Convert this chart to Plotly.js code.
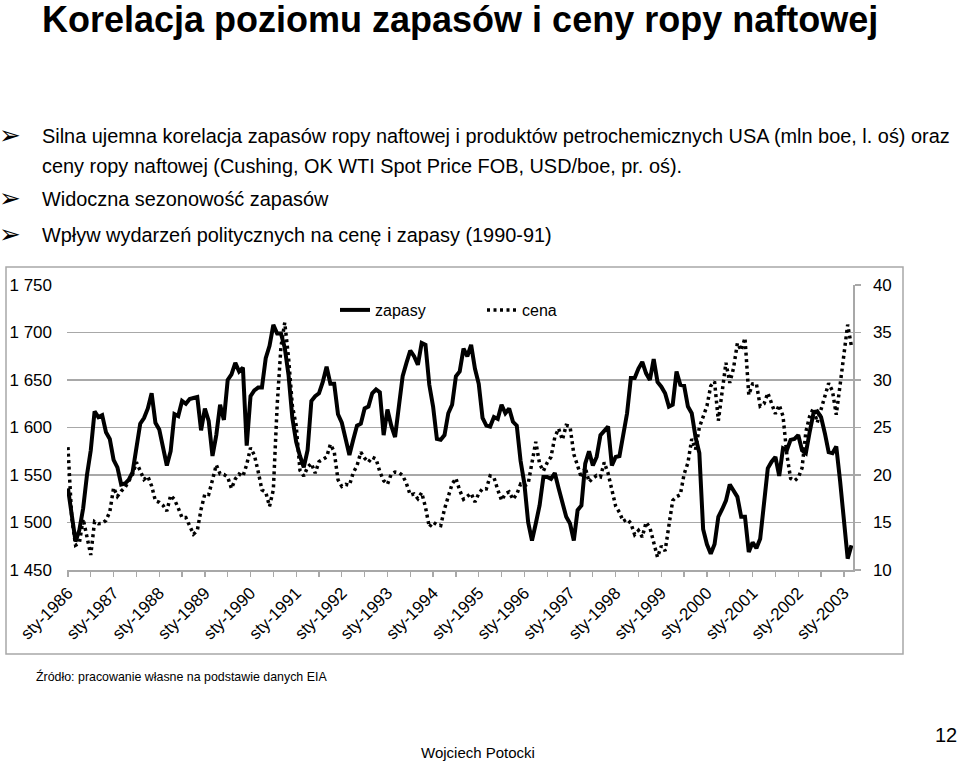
<!DOCTYPE html>
<html><head><meta charset="utf-8">
<script src="https://cdn.plot.ly/plotly-3.0.1.min.js"></script>
<style>html,body{margin:0;padding:0;background:#fff}#chart{width:960px;height:765px}</style>
</head><body><div id="chart"></div>
<script>
// Polish month abbreviations and first year of the series
const monthAbbr = ['sty','lut','mar','kwi','maj','cze','lip','sie','wrz','paź','lis','gru'];
const startYear = 1986;

// US crude + products stocks (mln boe), monthly Jan 1986 - Mar 2003 (left axis)
const zapasy = [
  1536,1508,1480,1492,1515,1550,1576,1617,1611,1613,1595,1588,
  1566,1558,1540,1541,1545,1553,1580,1604,1610,1620,1636,1605,
  1598,1578,1560,1575,1614,1612,1628,1625,1630,1631,1632,1597,
  1620,1607,1570,1592,1624,1608,1650,1656,1668,1659,1663,1581,
  1633,1639,1642,1642,1673,1686,1708,1699,1699,1684,1655,1610,
  1585,1570,1558,1576,1628,1633,1636,1648,1664,1646,1646,1614,
  1605,1588,1571,1587,1602,1604,1620,1622,1636,1640,1637,1592,
  1619,1602,1590,1622,1654,1668,1681,1675,1666,1689,1687,1645,
  1622,1588,1587,1592,1615,1624,1654,1659,1683,1675,1687,1662,
  1646,1610,1602,1601,1611,1609,1624,1615,1620,1606,1602,1565,
  1541,1500,1481,1499,1518,1548,1548,1546,1552,1536,1520,1506,
  1499,1481,1513,1518,1562,1575,1560,1569,1592,1597,1601,1560,
  1569,1570,1590,1615,1652,1652,1662,1669,1657,1650,1672,1648,
  1643,1636,1622,1624,1659,1645,1644,1622,1615,1590,1573,1493,
  1477,1467,1477,1506,1514,1523,1540,1534,1527,1506,1506,1469,
  1479,1473,1483,1520,1557,1564,1569,1549,1578,1576,1587,1588,
  1592,1576,1573,1595,1615,1617,1611,1594,1574,1573,1580,1544,
  1506,1462,1476
];

// WTI spot price (USD/boe), monthly Jan 1986 - Mar 2003 (right axis)
const cena = [
  22.93,15.46,12.61,12.84,15.38,13.43,11.58,15.10,14.87,14.90,15.22,16.11,
  18.65,17.75,18.30,18.68,19.44,20.07,21.34,20.31,19.53,19.86,18.85,17.28,
  17.13,16.80,16.20,17.86,17.42,16.53,15.50,15.52,14.54,13.77,14.14,16.38,
  18.02,17.94,19.48,21.07,20.12,20.05,19.78,18.58,19.59,20.10,19.86,21.10,
  22.86,22.11,20.39,18.43,18.20,16.70,18.45,27.31,33.51,36.04,32.33,27.28,
  25.23,20.48,19.90,20.83,21.23,20.19,21.40,21.69,21.89,23.23,22.46,19.50,
  18.79,19.01,18.92,20.23,20.98,22.39,21.78,21.34,21.88,21.69,20.34,19.41,
  19.03,20.09,20.32,20.25,19.95,19.09,17.89,18.01,17.50,18.15,16.61,14.52,
  15.03,14.78,14.68,16.42,17.89,19.06,19.65,18.38,17.45,17.72,18.07,17.16,
  18.04,18.57,18.54,19.90,19.74,18.45,17.33,18.02,18.23,17.43,17.99,19.03,
  18.85,19.09,21.33,23.50,21.17,20.42,21.30,21.90,23.97,24.88,23.71,25.23,
  25.13,22.18,20.97,19.70,20.82,19.26,19.66,19.95,19.80,21.33,20.19,18.33,
  16.72,16.06,15.12,15.35,14.91,13.72,14.17,13.47,15.03,14.46,13.00,11.35,
  12.52,12.01,14.68,17.31,17.72,17.92,20.10,21.28,23.80,22.69,25.00,26.10,
  27.26,29.37,29.84,25.72,28.79,31.82,29.70,31.26,33.88,33.11,34.42,28.44,
  29.59,29.61,27.25,27.49,28.63,27.60,26.43,27.37,26.20,22.17,19.64,19.39,
  19.72,20.72,24.53,26.18,27.04,25.52,26.97,28.39,29.66,28.84,26.35,29.46,
  32.95,35.83,33.51
];

// Axis ticks
const yLeftTicks = [1450,1500,1550,1600,1650,1700,1750];
const yLeftText  = ['1 450','1 500','1 550','1 600','1 650','1 700','1 750'];
const yRightTicks = [10,15,20,25,30,35,40];
const yRightText  = ['10','15','20','25','30','35','40'];

// Category labels
const months = zapasy.map((_, i) => monthAbbr[i % 12] + '-' + (startYear + Math.floor(i / 12)));
const idx = months.map((_, i) => i);
const xTickVals = idx.filter(i => i % 6 === 0);
const xTickText = xTickVals.map(i => (i % 12 === 0 ? months[i] : ''));

const FONT = 'Liberation Sans, Arial, sans-serif';
const GRID = '#a8a8a8';

// page-pixel -> paper helpers (plot area 67..853 x 285..570)
const L = 67, R = 853, T = 285, B = 570;
const px = x => (x - L) / (R - L);
const py = y => (B - y) / (B - T);

const traces = [
  {x: idx, y: zapasy, text: months, name: 'zapasy', type: 'scatter', mode: 'lines',
   line: {color: '#000', width: 4}, hovertemplate: '%{text}: %{y}<extra></extra>'},
  {x: idx, y: cena, text: months, name: 'cena', type: 'scatter', mode: 'lines', yaxis: 'y2',
   line: {color: '#000', width: 3.5, dash: '3px,3.5px'}, hovertemplate: '%{text}: %{y}<extra></extra>'}
];

function ann(text, x, y, size, opts) {
  return Object.assign({text: text, xref: 'paper', yref: 'paper', x: px(x), y: py(y),
    xanchor: 'left', yanchor: 'middle', showarrow: false,
    font: {family: FONT, size: size, color: '#000'}}, opts || {});
}
const bullet = '➢';
const BF = {font: {family: 'DejaVu Sans', size: 26, color: '#000'}};
const annotations = [
  ann('<b>Korelacja poziomu zapasów i ceny ropy naftowej</b>', 40, 19, 36),
  ann(bullet, -3, 135, 26, BF),
  ann('Silna ujemna korelacja zapasów ropy naftowej i produktów petrochemicznych USA (mln boe, l. oś) oraz', 40, 136, 19.9),
  ann('ceny ropy naftowej (Cushing, OK WTI Spot Price FOB, USD/boe, pr. oś).', 40, 166, 19.9),
  ann(bullet, -3, 198, 26, BF),
  ann('Widoczna sezonowość zapasów', 40, 199, 19.9),
  ann(bullet, -3, 234, 26, BF),
  ann('Wpływ wydarzeń politycznych na cenę i zapasy (1990-91)', 40, 235, 19.9),
  ann('Źródło: pracowanie własne na podstawie danych EIA', 34, 676, 12.4),
  ann('Wojciech Potocki', 478, 752, 15, {xanchor: 'center'}),
  ann('12', 946, 735, 20, {xanchor: 'center'})
];

const layout = {
  width: 960, height: 765,
  margin: {l: L, r: 960 - R, t: T, b: 765 - B, pad: 0},
  paper_bgcolor: '#fff', plot_bgcolor: '#fff',
  font: {family: FONT, color: '#000'},
  showlegend: true,
  legend: {orientation: 'h', x: px(335), y: py(310), xanchor: 'left', yanchor: 'middle',
           font: {family: FONT, size: 16, color: '#000'}, bgcolor: 'rgba(0,0,0,0)',
           entrywidthmode: 'pixels', entrywidth: 102},
  xaxis: {range: [-0.25, 206.4], tickmode: 'array', tickvals: xTickVals, ticktext: xTickText,
          tickangle: -45, ticks: 'outside', ticklen: 5, tickcolor: GRID, tickwidth: 1.3,
          showline: true, linecolor: GRID, linewidth: 1.5, showgrid: false, zeroline: false,
          tickfont: {family: FONT, size: 17, color: '#000'}},
  yaxis: {range: [1450, 1750], tickmode: 'array', tickvals: yLeftTicks, ticktext: yLeftText,
          showgrid: true, gridcolor: GRID, gridwidth: 1.3, zeroline: false, showline: false,
          ticks: '', ticklabelstandoff: 14, tickfont: {family: FONT, size: 17, color: '#000'}},
  yaxis2: {overlaying: 'y', side: 'right', range: [10, 40], tickmode: 'array',
           tickvals: yRightTicks, ticktext: yRightText, showgrid: false, zeroline: false,
           showline: true, linecolor: GRID, linewidth: 1.5, ticks: 'outside', ticklen: 6,
           tickcolor: GRID, tickwidth: 1.3, ticklabelstandoff: 9,
           tickfont: {family: FONT, size: 17, color: '#000'}},
  shapes: [
    {type: 'rect', xref: 'paper', yref: 'paper', x0: px(6), x1: px(903), y0: py(267), y1: py(654),
     line: {color: '#a8a8a8', width: 1.5}, fillcolor: 'rgba(0,0,0,0)', layer: 'below'}
  ],
  annotations: annotations
};

Plotly.newPlot('chart', traces, layout, {displayModeBar: false, staticPlot: true});
</script></body></html>
